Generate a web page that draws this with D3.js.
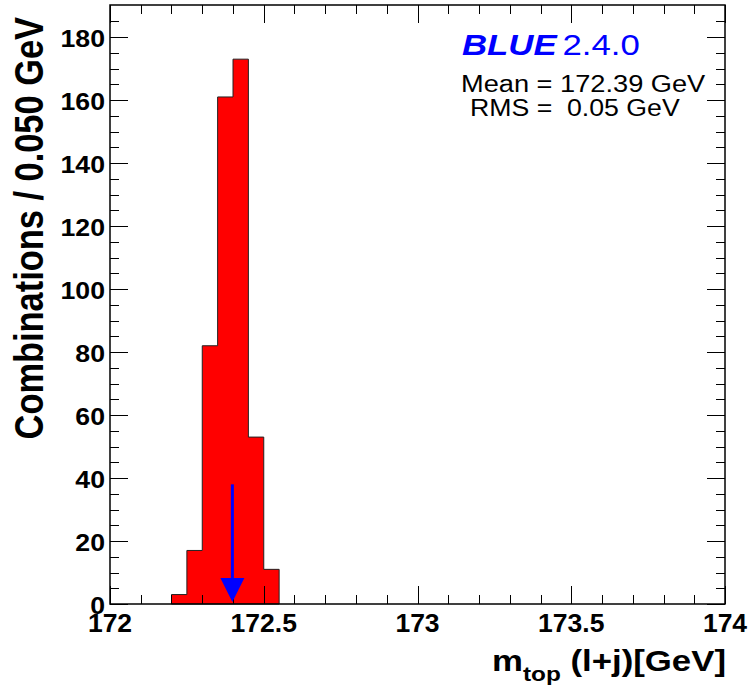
<!DOCTYPE html>
<html>
<head>
<meta charset="utf-8">
<script src="https://cdn.jsdelivr.net/npm/d3@7"></script>
<style>
  body { margin: 0; background: #fff; }
  text { font-family: "Liberation Sans", Arial, sans-serif; }
</style>
</head>
<body>
<div id="chart"></div>
<script>
// histogram of combinations, bins 0.050 GeV wide
const BIN_LOW = [172.20, 172.25, 172.30, 172.35, 172.40, 172.45, 172.50];
const COUNTS = [3, 17, 82, 161, 173, 53, 11];
const BIN_WIDTH = 0.05;
const MEAN = 172.398;      // where the arrow points
const MEAN_TEXT = '172.39';
const RMS_TEXT = '0.05';
const ARROW_TOP = 38;
const X_TICKS = [172, 172.5, 173, 173.5, 174];
const Y_TICKS = [0, 20, 40, 60, 80, 100, 120, 140, 160, 180];

const W = 750, H = 687;
const FRAME = {left: 110, right: 725, top: 5, bottom: 604};
const STRETCH = 1.16; // the picture's text is a bit wider than tall

const svg = d3.select('#chart')
    .append('svg')
    .attr('width', W)
    .attr('height', H);

const x = d3.scaleLinear()
    .domain([172, 174])
    .range([FRAME.left, FRAME.right]);

const y = d3.scaleLinear()
    .domain([0, 190.2])
    .range([FRAME.bottom, FRAME.top]);

// histogram fill + step outline
let pts = [[x(BIN_LOW[0]), y(0)]];
BIN_LOW.forEach((lo, i) => {
    pts.push([x(lo), y(COUNTS[i])]);
    pts.push([x(lo + BIN_WIDTH), y(COUNTS[i])]);
});
pts.push([x(BIN_LOW[BIN_LOW.length - 1] + BIN_WIDTH), y(0)]);

svg.append('path')
    .attr('d', d3.line()(pts) + 'Z')
    .attr('fill', '#ff0000')
    .attr('stroke', '#222')
    .attr('stroke-width', 1);

// ticks on all four sides like ROOT
const majLen = 18, minLen = 9;
const ax = svg.append('g').attr('stroke', '#000').attr('stroke-width', 1);

d3.range(172, 174.0001, 0.1).forEach(v => {
    const isMaj = X_TICKS.some(t => Math.abs(t - v) < 1e-6);
    const len = isMaj ? majLen : minLen;
    const px = Math.round(x(v)) + 0.5;
    ax.append('line').attr('x1', px).attr('x2', px)
        .attr('y1', FRAME.bottom).attr('y2', FRAME.bottom - len);
    ax.append('line').attr('x1', px).attr('x2', px)
        .attr('y1', FRAME.top).attr('y2', FRAME.top + len);
});

d3.range(0, 190, 5).forEach(v => {
    const isMaj = v % 20 === 0;
    const len = isMaj ? majLen : minLen;
    const py = Math.round(y(v)) + 0.5;
    ax.append('line').attr('x1', FRAME.left).attr('x2', FRAME.left + len)
        .attr('y1', py).attr('y2', py);
    ax.append('line').attr('x1', FRAME.right).attr('x2', FRAME.right - len)
        .attr('y1', py).attr('y2', py);
});

svg.append('rect')
    .attr('x', FRAME.left).attr('y', FRAME.top)
    .attr('width', FRAME.right - FRAME.left)
    .attr('height', FRAME.bottom - FRAME.top)
    .attr('fill', 'none')
    .attr('stroke', '#000')
    .attr('stroke-width', 1.5);

// tick labels
svg.append('g').selectAll('text')
    .data(X_TICKS)
    .enter().append('text')
    .attr('x', d => x(d))
    .attr('y', 632)
    .attr('text-anchor', 'middle')
    .attr('font-size', 26.5)
    .attr('font-weight', 'bold')
    .text(d => d3.format('')(d));

svg.append('g').selectAll('text')
    .data(Y_TICKS)
    .enter().append('text')
    .attr('transform', d => `translate(105,${y(d) + 10}) scale(${STRETCH},1)`)
    .attr('text-anchor', 'end')
    .attr('font-size', 23)
    .attr('font-weight', 'bold')
    .text(d => d);

// axis titles
svg.append('text')
    .attr('transform', `translate(43,17) scale(${STRETCH},1) rotate(-90)`)
    .attr('text-anchor', 'end')
    .attr('font-size', 34.4)
    .attr('font-weight', 'bold')
    .text('Combinations / 0.050 GeV');

const xt = svg.append('text')
    .attr('transform', `translate(726,671) scale(${STRETCH},1)`)
    .attr('text-anchor', 'end')
    .attr('font-size', 30)
    .attr('font-weight', 'bold');
xt.append('tspan').text('m');
xt.append('tspan').attr('font-size', 21).attr('dy', 10).text('top');
xt.append('tspan').attr('dy', -10).text(' (l+j)[GeV]');

// mean arrow
const ax0 = x(MEAN);
svg.append('line')
    .attr('x1', ax0).attr('x2', ax0)
    .attr('y1', y(ARROW_TOP)).attr('y2', y(0) - 20)
    .attr('stroke', '#0000ff')
    .attr('stroke-width', 3);
svg.append('path')
    .attr('d', `M${ax0 - 12},${y(0) - 26}L${ax0 + 12},${y(0) - 26}L${ax0},${y(0) - 2}Z`)
    .attr('fill', '#0000ff');

// BLUE label and stats
const blue = svg.append('text')
    .attr('transform', `translate(462,55) scale(${STRETCH},1)`)
    .attr('font-size', 30)
    .attr('fill', '#0000ff');
blue.append('tspan').attr('font-weight', 'bold').attr('font-style', 'italic').text('BLUE');
blue.append('tspan').attr('dx', 5).text('2.4.0');

svg.append('text')
    .attr('transform', `translate(461,92) scale(${STRETCH * 1.02},1)`)
    .attr('font-size', 23)
    .text('Mean = ' + MEAN_TEXT + ' GeV');

svg.append('text')
    .attr('transform', `translate(470,115.5) scale(${STRETCH},1)`)
    .attr('font-size', 23)
    .style('white-space', 'pre')
    .text('RMS =  ' + RMS_TEXT + ' GeV');
</script>
</body>
</html>
